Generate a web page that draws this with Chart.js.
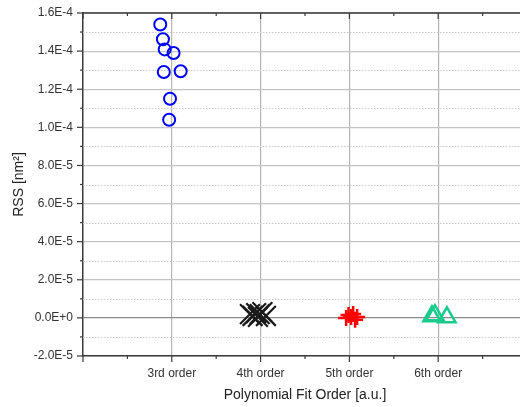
<!DOCTYPE html>
<html>
<head>
<meta charset="utf-8">
<script src="https://cdn.jsdelivr.net/npm/chart.js@4/dist/chart.umd.min.js"></script>
<style>
  html, body { margin: 0; padding: 0; background: #fff; overflow: hidden; }
  #wrap { width: 520px; height: 407px; overflow: hidden; }
  canvas { display: block; }
</style>
</head>
<body>
<div id="wrap"><canvas id="c" width="540" height="407"></canvas></div>
<script>
// Fit-order categories, placed at x = 3, 4, 5, 6
const categories = ['3rd order', '4th order', '5th order', '6th order'];
const categoryPositions = [3, 4, 5, 6];

// Residual sum of squares for each fit order (x carries the small horizontal spread)
const order3X = [2.87, 2.90, 2.92, 3.02, 2.91, 3.10, 2.98, 2.97];
const order3Y = [1.54e-4, 1.462e-4, 1.409e-4, 1.39e-4, 1.29e-4, 1.294e-4, 1.15e-4, 1.04e-4];

const order4X = [3.88, 3.91, 3.95, 3.97, 3.99, 4.02, 4.06];
const order4Y = [2.0e-6, 1.0e-6, 2.5e-6, 0.5e-6, 2.0e-6, 3.0e-6, 1.0e-6];

const order5X = [4.963, 4.99, 5.019, 5.042, 5.064, 5.087];
const order5Y = [0.0, 1.5e-6, 0.5e-6, 2.0e-6, -1.0e-6, 0.5e-6];

const order6X = [5.93, 5.963, 6.098];
const order6Y = [0.8e-6, 1.4e-6, 0.3e-6];

// Y axis tick values
const yMin = -2e-5, yMax = 1.6e-4, yMajorStep = 2e-5, yMinorStep = 1e-5;
const xMin = 2, xMax = 7;

function points(xs, ys) { return xs.map((x, i) => ({ x: x, y: ys[i] })); }

const FONT = 'Liberation Sans, Arial, sans-serif';

// Minor dotted grid, tick marks and the mirrored top/right frame
const framePlugin = {
  id: 'frame',
  beforeDatasetsDraw(chart) {
    const { ctx, chartArea: a, scales } = chart;
    const y = scales.y;
    ctx.save();
    ctx.strokeStyle = '#c8c8c8';
    ctx.lineWidth = 1;
    ctx.setLineDash([1.5, 1.5]);
    for (let v = yMin + yMinorStep; v < yMax; v += yMajorStep) {
      const py = Math.round(y.getPixelForValue(v)) + 0.5;
      ctx.beginPath(); ctx.moveTo(a.left, py); ctx.lineTo(a.right, py); ctx.stroke();
    }
    ctx.restore();
  },
  afterDraw(chart) {
    const { ctx, chartArea: a, scales } = chart;
    const x = scales.x, y = scales.y;
    ctx.save();
    ctx.strokeStyle = '#3a3a3a';
    ctx.lineWidth = 1.5;
    // top and right frame
    ctx.beginPath();
    ctx.moveTo(a.left, a.top); ctx.lineTo(a.right, a.top); ctx.lineTo(a.right, a.bottom);
    ctx.stroke();
    ctx.lineWidth = 1.2;
    // left ticks (outward) and right ticks (inward)
    for (let k = 0; k <= Math.round((yMax - yMin) / yMinorStep); k++) {
      const v = yMin + k * yMinorStep;
      const len = (k % 2 === 0) ? 6 : 3;
      const py = y.getPixelForValue(v);
      ctx.beginPath(); ctx.moveTo(a.left - len, py); ctx.lineTo(a.left, py); ctx.stroke();
      ctx.beginPath(); ctx.moveTo(a.right - len, py); ctx.lineTo(a.right, py); ctx.stroke();
    }
    // bottom ticks (outward) and top ticks (inward)
    for (let k = 0; k <= (xMax - xMin) * 2; k++) {
      const v = xMin + k * 0.5;
      const len = (k % 2 === 0) ? 6 : 3;
      const px = x.getPixelForValue(v);
      ctx.beginPath(); ctx.moveTo(px, a.bottom); ctx.lineTo(px, a.bottom + len); ctx.stroke();
      ctx.beginPath(); ctx.moveTo(px, a.top); ctx.lineTo(px, a.top + len); ctx.stroke();
    }
    ctx.restore();
  }
};

new Chart(document.getElementById('c'), {
  type: 'scatter',
  data: {
    datasets: [
      { label: '3rd order', data: points(order3X, order3Y), pointStyle: 'circle',
        pointRadius: 6, borderColor: '#0000ff', backgroundColor: 'rgba(0,0,0,0)', borderWidth: 2 },
      { label: '4th order', data: points(order4X, order4Y), pointStyle: 'crossRot',
        pointRadius: 14, borderColor: '#1a1a1a', backgroundColor: '#1a1a1a', borderWidth: 2.2 },
      { label: '5th order', data: points(order5X, order5Y), pointStyle: 'cross',
        pointRadius: 8, borderColor: '#ff0000', backgroundColor: '#ff0000', borderWidth: 2.5 },
      { label: '6th order', data: points(order6X, order6Y), pointStyle: 'triangle',
        pointRadius: 10, borderColor: '#19cc8c', backgroundColor: 'rgba(0,0,0,0)', borderWidth: 2.5 }
    ]
  },
  options: {
    responsive: false,
    animation: false,
    devicePixelRatio: 1,
    layout: { autoPadding: false, padding: { top: 13, right: 13, bottom: 0, left: 0 } },
    plugins: { legend: { display: false }, tooltip: { enabled: false } },
    scales: {
      x: {
        type: 'linear', min: xMin, max: xMax,
        afterFit(s) { s.height = 51; s.paddingLeft = 0; s.paddingRight = 0; },
        afterBuildTicks(s) { s.ticks = [2, 3, 4, 5, 6, 7].map(v => ({ value: v })); },
        ticks: {
          autoSkip: false, maxRotation: 0, padding: 10,
          color: '#333', font: { family: FONT, size: 12 },
          callback(v) { const i = categoryPositions.indexOf(v); return i >= 0 ? categories[i] : ''; }
        },
        grid: {
          drawTicks: false,
          color(c) { const v = c.tick && c.tick.value; return (v >= 3 && v <= 6) ? '#b4b4b4' : 'rgba(0,0,0,0)'; },
          lineWidth: 1.2
        },
        border: { color: '#3a3a3a', width: 1.5 },
        title: { display: true, text: 'Polynomial Fit Order [a.u.]', color: '#222',
          font: { family: FONT, size: 14 }, padding: { top: 4, bottom: 3 } }
      },
      y: {
        min: yMin, max: yMax,
        afterFit(s) { s.width = 83; s.paddingTop = 0; s.paddingBottom = 0; },
        ticks: {
          stepSize: yMajorStep, padding: 10,
          color: '#333', font: { family: FONT, size: 12 },
          callback(v) { return Number(v).toExponential(1).toUpperCase(); }
        },
        grid: {
          drawTicks: false,
          color(c) { const v = c.tick && c.tick.value; return Math.abs(v) < 1e-12 ? '#8a8a8a' : '#c4c4c4'; },
          lineWidth: 1.2
        },
        border: { color: '#3a3a3a', width: 1.5 },
        title: { display: true, text: 'RSS [nm\u00B2]', color: '#222',
          font: { family: FONT, size: 14 }, padding: { top: 11, bottom: 0 } }
      }
    }
  },
  plugins: [framePlugin]
});
</script>
</body>
</html>
